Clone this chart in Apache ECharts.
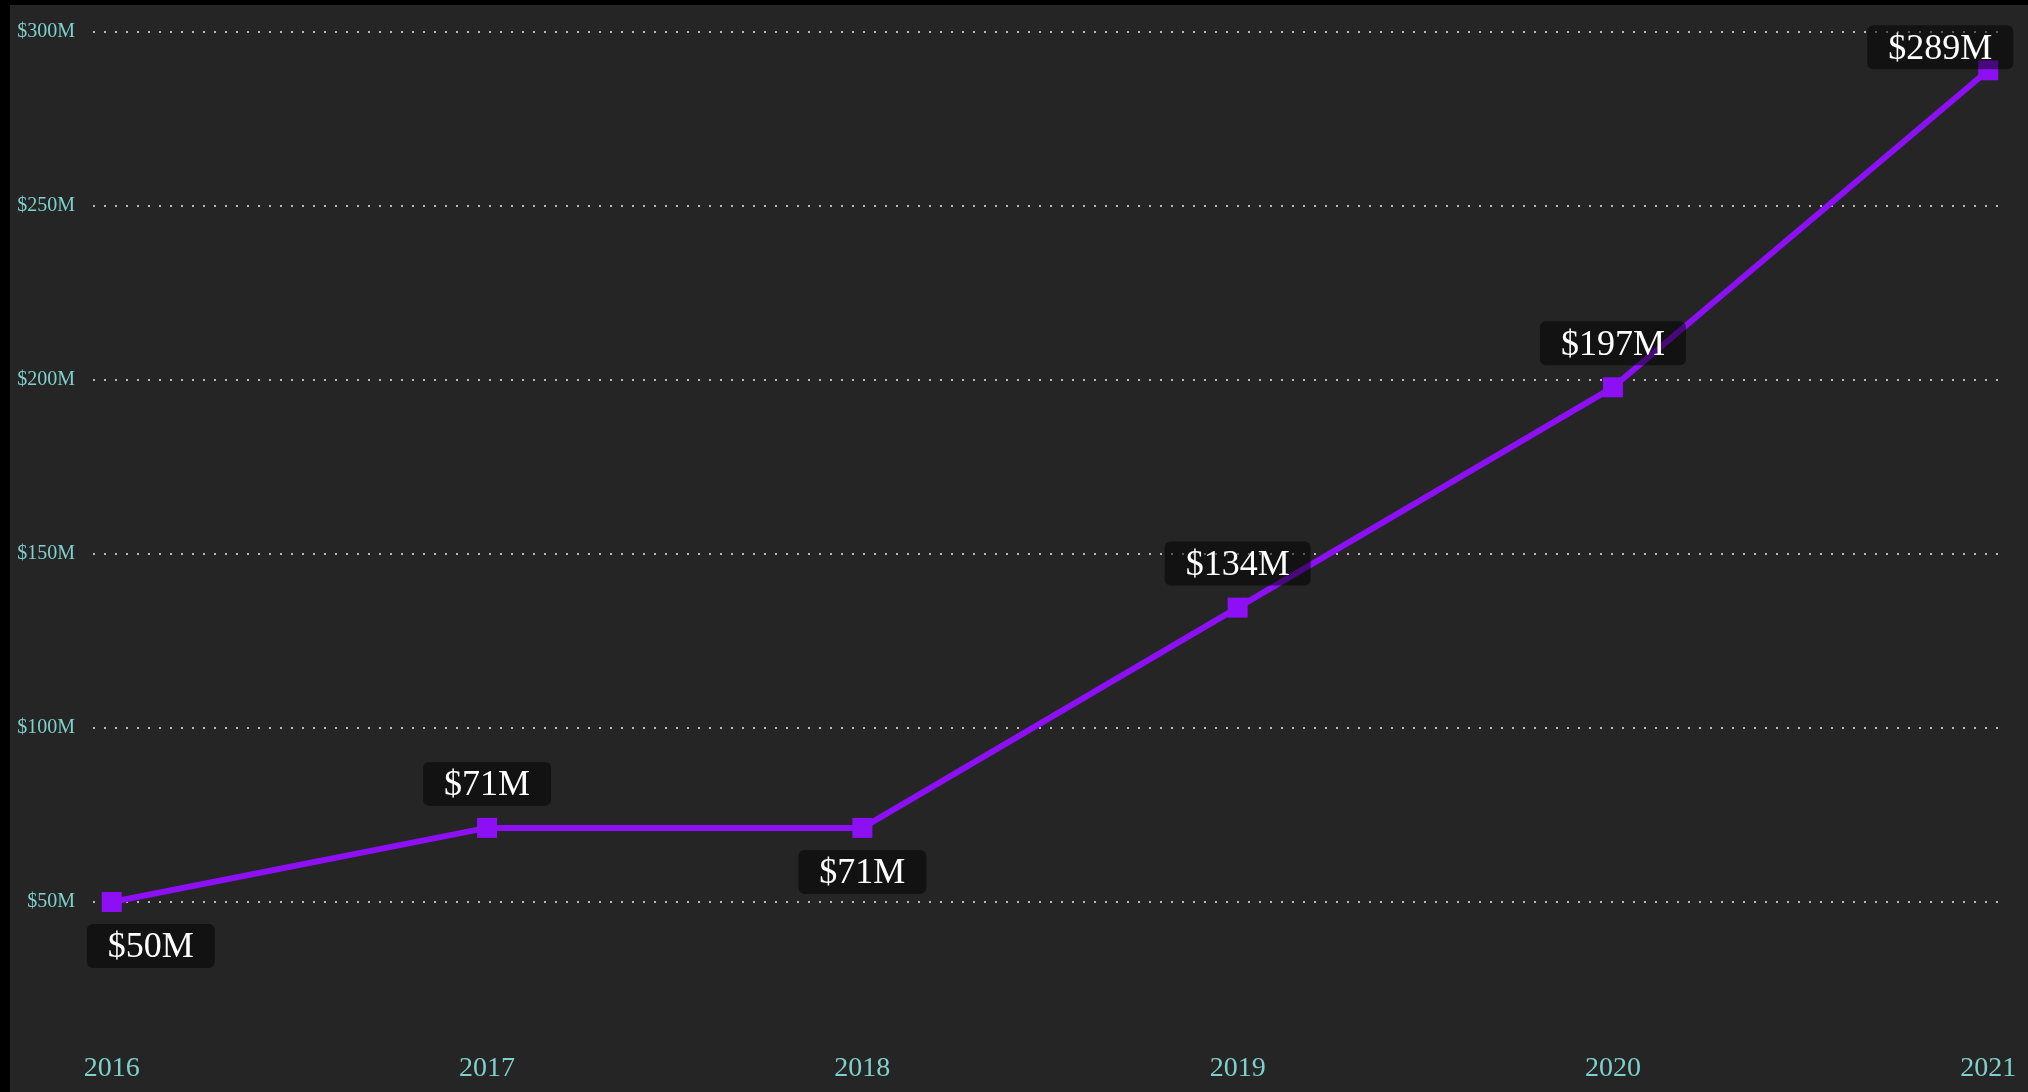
<!DOCTYPE html>
<html>
<head>
<meta charset="utf-8">
<script src="https://cdn.jsdelivr.net/npm/echarts@6/dist/echarts.min.js"></script>
<style>
  html, body { margin: 0; padding: 0; background: #000; width: 2028px; height: 1092px; overflow: hidden; }
  #chart { position: absolute; left: 10px; top: 5px; width: 2018px; height: 1087px; }
</style>
</head>
<body>
<div id="chart"></div>
<script>
const years = [2016, 2017, 2018, 2019, 2020, 2021];
const values = [50, 71.3, 71.3, 134.6, 197.9, 289];
const yTicks = [0, 50, 100, 150, 200, 250, 300];

// label placement (style only)
const labelSide = ['bottom', 'top', 'bottom', 'top', 'top', 'top'];
const labelShift = [[39, 0], [0, 0], [0, 0], [0, 0], [0, 0], [-48, 21]];

const chart = echarts.init(document.getElementById('chart'), null, { renderer: 'canvas' });

const seriesData = years.map((y, i) => ({
  value: [y, values[i]],
  label: { position: labelSide[i], offset: labelShift[i] }
}));

chart.setOption({
  backgroundColor: '#252525',
  animation: false,
  grid: { left: 83, right: 21, top: 27, bottom: 16, containLabel: false },
  xAxis: {
    type: 'value',
    min: 2015.95,
    max: 2021.05,
    axisLine: { show: false },
    axisTick: { show: false },
    splitLine: { show: false },
    axisLabel: {
      customValues: years,
      formatter: v => String(v),
      color: '#7fd0cc',
      fontFamily: 'Liberation Serif',
      fontSize: 28,
      margin: -21
    }
  },
  yAxis: {
    type: 'value',
    min: yTicks[0],
    max: yTicks[yTicks.length - 1],
    interval: 50,
    axisLine: { show: false },
    axisTick: { show: false },
    axisLabel: {
      showMinLabel: false,
      formatter: v => '$' + v + 'M',
      color: '#7fd0cc',
      fontFamily: 'Liberation Serif',
      fontSize: 20,
      margin: 18
    },
    splitLine: {
      show: true,
      showMinLine: false,
      lineStyle: { color: '#b8b8b8', width: 2, type: [2, 9] }
    }
  },
  series: [{
    type: 'line',
    data: seriesData,
    symbol: 'rect',
    symbolSize: 20,
    lineStyle: { color: '#8d10f5', width: 6 },
    itemStyle: { color: '#8d10f5' },
    label: {
      show: true,
      formatter: p => '$' + Math.floor(p.value[1]) + 'M',
      color: '#ffffff',
      fontFamily: 'Liberation Serif',
      fontSize: 36,
      lineHeight: 36,
      backgroundColor: 'rgba(0,0,0,0.5)',
      borderRadius: 6,
      padding: [6, 21, 2, 21],
      distance: 12
    }
  }]
});
</script>
</body>
</html>
